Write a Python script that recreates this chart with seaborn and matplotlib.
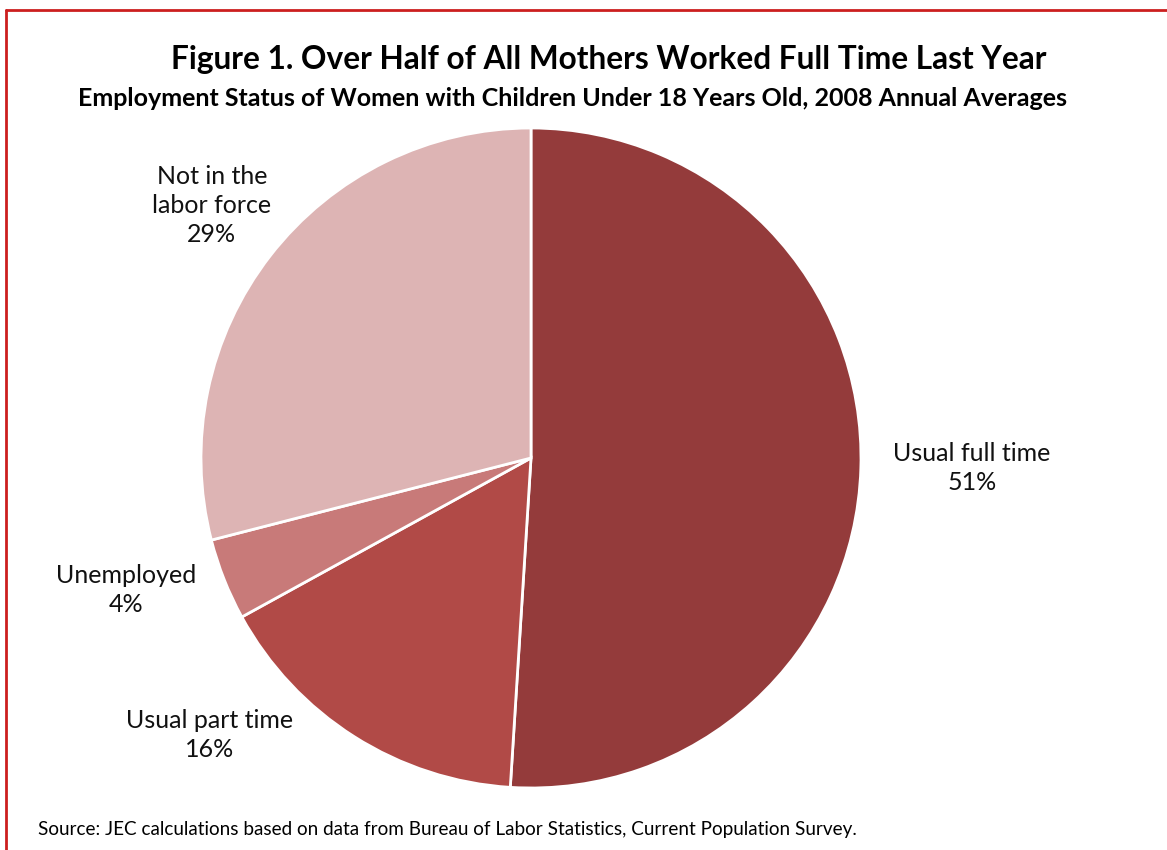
import matplotlib
matplotlib.use("Agg")
import matplotlib.pyplot as plt
import seaborn as sns

# data
categories = ["Usual full time", "Usual part time", "Unemployed", "Not in the\nlabor force"]
shares = [51, 16, 4, 29]
colors = ["#943B3B", "#B14A47", "#C87A79", "#DDB4B4"]

# label spots (in pie axes units, radius = 1)
label_xy = [(1.336, -0.03), (-0.975, -0.84), (-1.227, -0.40), (-0.967, 0.765)]

title = "Figure 1. Over Half of All Mothers Worked Full Time Last Year"
subtitle = "Employment Status of Women with Children Under 18 Years Old, 2008 Annual Averages"
source = "Source: JEC calculations based on data from Bureau of Labor Statistics, Current Population Survey."

sns.set_theme(style="white")
plt.rcParams['font.family'] = ['Lato', 'DejaVu Sans']

W, H = 1167, 850
fig = plt.figure(figsize=(W / 100, H / 100), dpi=100)

cx, cy, r = 531, 458, 330
ax = fig.add_axes([(cx - r) / W, (H - cy - r) / H, 2 * r / W, 2 * r / H])
wedges, _ = ax.pie(shares, colors=colors, startangle=90, counterclock=False,
                   wedgeprops=dict(edgecolor="white", linewidth=2))
ax.set_xlim(-1, 1)
ax.set_ylim(-1, 1)
ax.set_aspect("equal")
ax.axis("off")

for cat, val, (lx, ly) in zip(categories, shares, label_xy):
    ax.text(lx, ly, f"{cat}\n{val}%", ha="center", va="center", fontsize=18,
            color="#111111", linespacing=1.3, clip_on=False)

fig.text(609 / W, 1 - 60 / H, title, ha="center", va="center", fontsize=22.8,
         fontweight="bold", color="black")
fig.text(573 / W, 1 - 99 / H, subtitle, ha="center", va="center", fontsize=18,
         fontweight="bold", color="black")
fig.text(38 / W, 1 - 830 / H, source, ha="left", va="center", fontsize=13.6, color="black")

# red frame (top and left edges visible)
fig.add_artist(plt.Line2D([6 / W, 1], [1 - 10 / H, 1 - 10 / H], color="#CC1F1F", lw=2))
fig.add_artist(plt.Line2D([6 / W, 6 / W], [0, 1 - 10 / H], color="#CC1F1F", lw=2))

fig.savefig("out.png", dpi=100)
